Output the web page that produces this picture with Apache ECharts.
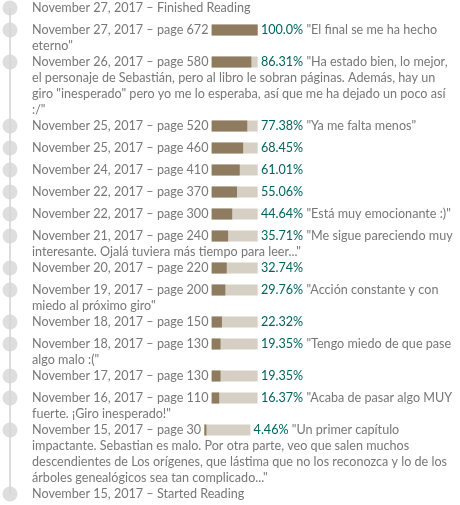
<!DOCTYPE html>
<html><head><meta charset="utf-8">
<script src="https://cdn.jsdelivr.net/npm/echarts@6/dist/echarts.min.js"></script>
<style>html,body{margin:0;padding:0;background:#fff}#c{width:460px;height:505px}</style>
</head><body><div id="c"></div>
<script>
const dates = ["November 27, 2017","November 27, 2017","November 26, 2017","November 25, 2017","November 25, 2017","November 24, 2017","November 22, 2017","November 22, 2017","November 21, 2017","November 20, 2017","November 19, 2017","November 18, 2017","November 18, 2017","November 17, 2017","November 16, 2017","November 15, 2017","November 15, 2017"];
const pages = [null,672,580,520,460,410,370,300,240,220,200,150,130,130,110,30,null];
const percentLabels = [null,"100.0%","86.31%","77.38%","68.45%","61.01%","55.06%","44.64%","35.71%","32.74%","29.76%","22.32%","19.35%","19.35%","16.37%","4.46%",null];
const statuses = ["Finished Reading",null,null,null,null,null,null,null,null,null,null,null,null,null,null,null,"Started Reading"];
const comments = [
  [],
  ['"El final se me ha hecho', 'eterno"'],
  ['"Ha estado bien, lo mejor,', 'el personaje de Sebastián, pero al libro le sobran páginas. Además, hay un', 'giro "inesperado" pero yo me lo esperaba, así que me ha dejado un poco así', ':/"'],
  ['"Ya me falta menos"'],
  [],
  [],
  [],
  ['"Está muy emocionante :)"'],
  ['"Me sigue pareciendo muy', 'interesante. Ojalá tuviera más tiempo para leer..."'],
  [],
  ['"Acción constante y con', 'miedo al próximo giro"'],
  [],
  ['"Tengo miedo de que pase', 'algo malo :("'],
  [],
  ['"Acaba de pasar algo MUY', 'fuerte. ¡Giro inesperado!"'],
  ['"Un primer capítulo', 'impactante. Sebastian es malo. Por otra parte, veo que salen muchos', 'descendientes de Los orígenes, que lástima que no los reconozca y lo de los', 'árboles genealógicos sea tan complicado..."'],
  []
];

const W = 460, H = 505;
const FONT = 'Lato', FS = 12.6;
const TEXT_X = 32, DOT_X = 10, BAR_LEN = 46, BAR_H = 11;
const LINE_H = 16, MIN_ROW_H = 22, TOP = 8;
const GRAY = '#777777', TEAL = '#00635d', BAR_BG = '#d6d0c4', BAR_FG = '#8f7b5f';

const ctx = document.createElement('canvas').getContext('2d');
ctx.font = FS + 'px ' + FONT;
const tw = s => ctx.measureText(s).width;

const heads = dates.map((d, i) => d + ' \u2013 ' + (pages[i] != null ? 'page ' + pages[i] : statuses[i]));
const rows = [];
let acc = TOP;
dates.forEach((d, i) => {
  const n = Math.max(1, comments[i].length);
  rows.push(acc);
  acc += n === 1 ? MIN_ROW_H : LINE_H * n;
});

const textStyle = (text, x, y, fill) => ({
  type: 'text',
  style: { text, x, y, fill, fontSize: FS, fontFamily: FONT, verticalAlign: 'middle', align: 'left' }
});

const chart = echarts.init(document.getElementById('c'), null, { renderer: 'canvas' });
chart.setOption({
  animation: false,
  grid: [
    { left: 0, right: 0, top: 0, bottom: 0 },
    { left: 0, width: BAR_LEN, top: 0, bottom: 0 }
  ],
  xAxis: [
    { type: 'value', min: 0, max: W, show: false, gridIndex: 0 },
    { type: 'value', min: 0, max: 100, show: false, gridIndex: 1 }
  ],
  yAxis: [
    { type: 'value', min: 0, max: H, inverse: true, show: false, gridIndex: 0 },
    { type: 'value', min: 0, max: H, inverse: true, show: false, gridIndex: 1 }
  ],
  series: [
    {
      type: 'line', xAxisIndex: 0, yAxisIndex: 0, symbol: 'none', silent: true,
      lineStyle: { color: '#dddddd', width: 2 },
      data: [[DOT_X, rows[0]], [DOT_X, rows[rows.length - 1]]], z: 1
    },
    {
      type: 'scatter', xAxisIndex: 0, yAxisIndex: 0, symbol: 'circle', symbolSize: 15, silent: true,
      itemStyle: { color: '#d6d6d6' },
      data: rows.map(r => [DOT_X, r]), z: 2
    },
    {
      type: 'custom', xAxisIndex: 0, yAxisIndex: 0, silent: true, z: 3,
      data: rows.map((r, i) => [TEXT_X, r, i]),
      renderItem: (params, api) => {
        const i = api.value(2);
        const p = api.coord([api.value(0), api.value(1)]);
        const children = [textStyle(heads[i], p[0], p[1], GRAY)];
        const com = comments[i];
        if (pages[i] != null) {
          const xPct = p[0] + tw(heads[i] + ' ') + BAR_LEN + tw(' ');
          children.push(textStyle(percentLabels[i], xPct, p[1], TEAL));
          if (com.length) {
            children.push(textStyle(com[0], xPct + tw(percentLabels[i] + ' '), p[1], GRAY));
          }
        }
        for (let k = 1; k < com.length; k++) {
          children.push(textStyle(com[k], p[0], p[1] + LINE_H * k, GRAY));
        }
        return { type: 'group', children };
      }
    },
    {
      type: 'custom', xAxisIndex: 1, yAxisIndex: 1, silent: true, z: 3,
      data: rows.map((r, i) => pages[i] != null ? [parseFloat(percentLabels[i]), r, i] : null).filter(Boolean),
      renderItem: (params, api) => {
        const i = api.value(2);
        const p = api.coord([0, api.value(1)]);
        const full = api.size([100, 0])[0];
        const fillW = api.size([api.value(0), 0])[0];
        const x0 = p[0] + TEXT_X + tw(heads[i] + ' ');
        const y0 = p[1] - BAR_H / 2;
        return {
          type: 'group',
          children: [
            { type: 'rect', shape: { x: x0, y: y0, width: full, height: BAR_H }, style: { fill: BAR_BG } },
            { type: 'rect', shape: { x: x0, y: y0, width: fillW, height: BAR_H }, style: { fill: BAR_FG } }
          ]
        };
      }
    }
  ]
});
</script>
</body></html>
